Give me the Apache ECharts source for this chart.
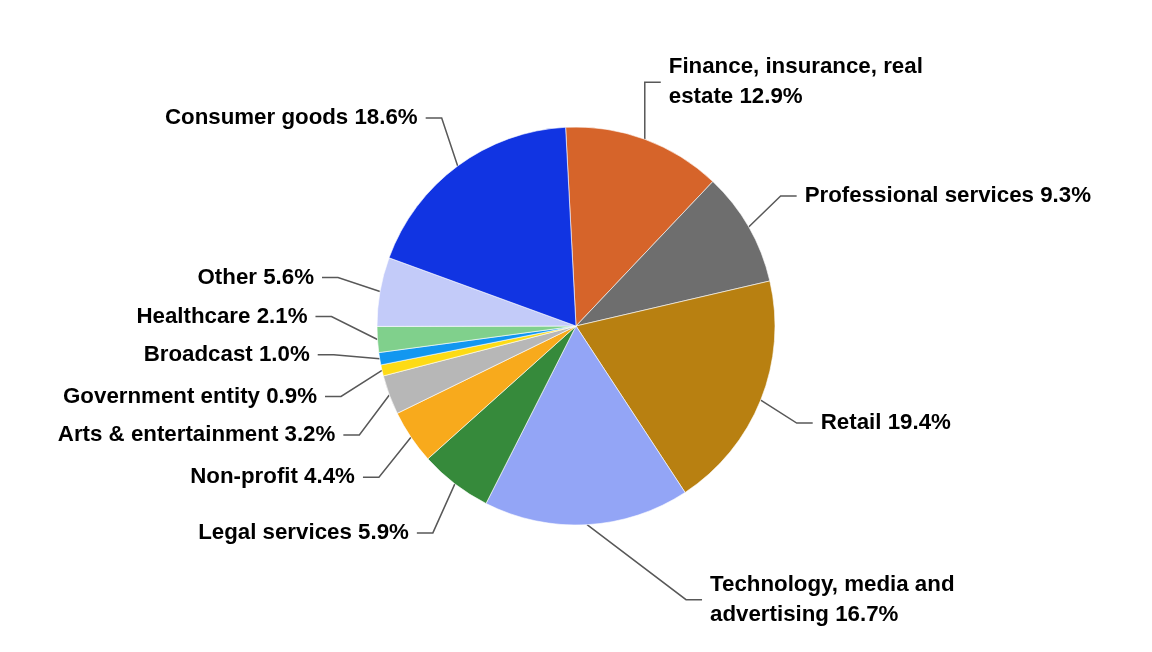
<!DOCTYPE html>
<html>
<head>
<meta charset="utf-8">
<style>
  html, body { margin: 0; padding: 0; background: #fff; }
  #chart { width: 1152px; height: 652px; }
</style>
<script src="https://cdn.jsdelivr.net/npm/echarts@6/dist/echarts.min.js"></script>
</head>
<body>
<div id="chart"></div>
<script>
// categories, clockwise from the top
const categories = [
    'Finance, insurance, real estate',
    'Professional services',
    'Retail',
    'Technology, media and advertising',
    'Legal services',
    'Non-profit',
    'Arts & entertainment',
    'Government entity',
    'Broadcast',
    'Healthcare',
    'Other',
    'Consumer goods'
];
const shares = [12.9, 9.3, 19.4, 16.7, 5.9, 4.4, 3.2, 0.9, 1.0, 2.1, 5.6, 18.6];
const colors = ['#d6642a', '#6e6e6e', '#b88011', '#93a5f6', '#368a3b', '#f8aa1c',
                '#b7b7b7', '#fddb15', '#1297f0', '#80d08c', '#c3cbf9', '#1134e2'];

// where each label sits, as an offset from its slice's edge point
const labelOffsets = [[24, -57], [56, -31], [60, 23], [123, 75], [-46, 49], [-56, 40],
                      [-54, 40], [-65, 26], [-70, -4], [-70, -23], [-66, -14], [-40, -48]];
// the two long names wrap onto two lines
const wrapped = [0, 3];
const PAD = 8;

const chart = echarts.init(document.getElementById('chart'));

const data = categories.map((name, i) => {
    const item = { name: name, value: shares[i], itemStyle: { color: colors[i] } };
    if (wrapped.includes(i)) {
        item.label = { width: 270, overflow: 'break', padding: [10, PAD, 0, PAD] };
    }
    return item;
});

chart.setOption({
    animation: false,
    series: [{
        type: 'pie',
        center: [576, 326],
        radius: 199,
        startAngle: 93,
        clockwise: true,
        avoidLabelOverlap: false,
        data: data,
        itemStyle: { borderColor: '#ffffff', borderWidth: 0.6 },
        label: {
            formatter: p => p.name + ' ' + p.value.toFixed(1) + '%',
            fontFamily: 'Liberation Sans, Arial, sans-serif',
            fontWeight: 'bold',
            fontSize: 22.3,
            lineHeight: 30,
            color: '#000000',
            padding: [4, PAD, 0, PAD]
        },
        labelLine: {
            show: true,
            length: 20,
            length2: 16,
            lineStyle: { color: '#585858', width: 1.5 }
        },
        labelLayout: function (params) {
            const anchor = params.labelLinePoints[0];
            const off = labelOffsets[params.dataIndex];
            const side = off[0] < 0 ? 1 : -1;
            return {
                x: anchor[0] + off[0] + side * PAD,
                y: anchor[1] + off[1],
                align: off[0] < 0 ? 'right' : 'left',
                verticalAlign: 'middle'
            };
        }
    }]
});
</script>
</body>
</html>
